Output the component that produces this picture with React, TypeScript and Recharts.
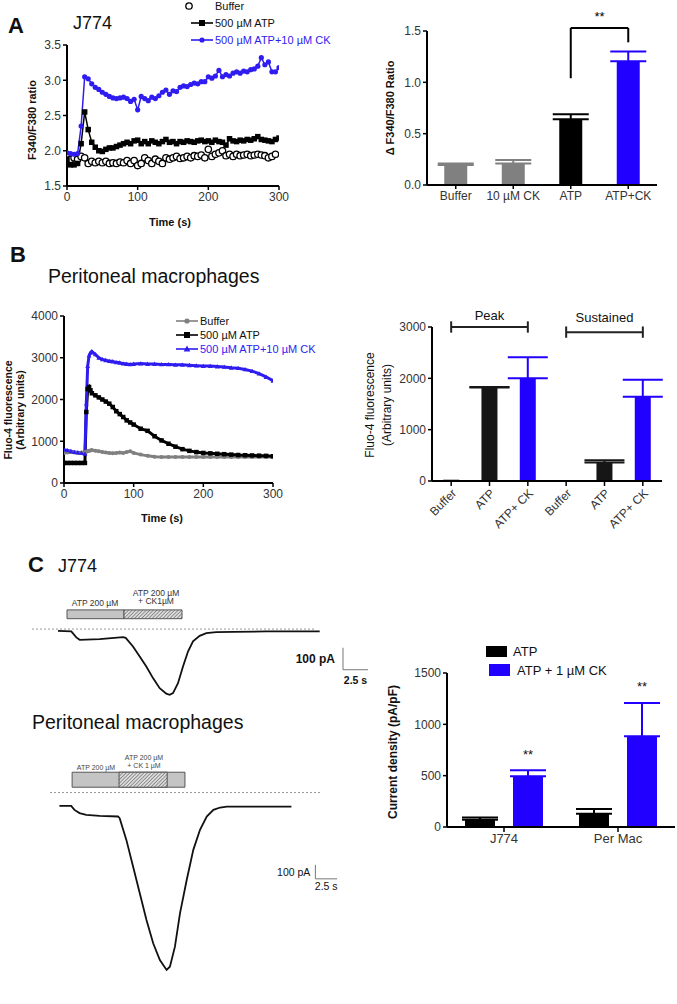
import React from 'react';
import {
  LineChart, Line, XAxis, YAxis, BarChart, Bar, ErrorBar,
  ReferenceLine, ReferenceArea, LabelList,
} from 'recharts';

// ---------------- Panel A: J774, F340/F380 ratio ----------------
const aTime = [0, 5, 10, 15, 20, 25, 30, 35, 40, 45, 50, 55, 60, 65, 70, 75, 80, 85, 90, 95,
  100, 105, 110, 115, 120, 125, 130, 135, 140, 145, 150, 155, 160, 165, 170, 175, 180, 185, 190, 195,
  200, 205, 210, 215, 220, 225, 230, 235, 240, 245, 250, 255, 260, 265, 270, 275, 280, 285, 290, 295, 300];
const aBuffer = [1.92, 1.88, 1.9, 1.88, 1.92, 1.9, 1.82, 1.85, 1.83, 1.85,
  1.83, 1.85, 1.82, 1.83, 1.82, 1.84, 1.83, 1.86, 1.82, 1.86,
  1.79, 1.82, 1.9, 1.86, 1.82, 1.88, 1.85, 1.82, 1.9, 1.88,
  1.9, 1.92, 1.89, 1.9, 1.92, 1.9, 1.93, 1.92, 1.94, 1.9,
  2.02, 1.92, 1.95, 1.97, 2.0, 1.93, 1.95, 1.92, 1.95, 1.93,
  1.94, 1.95, 1.93, 1.94, 1.95, 1.94, 1.93, 1.9, 1.92, 1.95, null];
const aAtp = [1.88, 1.8, 1.8, 1.82, 2.1, 2.55, 2.3, 2.12, 2.05, 2.0,
  1.99, 2.02, 2.04, 2.04, 2.06, 2.08, 2.1, 2.12, 2.1, 2.14,
  2.15, 2.1, 2.13, 2.1, 2.14, 2.12, 2.1, 2.13, 2.16, 2.12,
  2.13, 2.1, 2.13, 2.12, 2.14, 2.13, 2.12, 2.14, 2.15, 2.13,
  2.14, 2.12, 2.15, 2.13, 2.12, 2.08, 2.17, 2.14, 2.13, 2.15,
  2.14, 2.16, 2.15, 2.17, 2.2, 2.16, 2.15, 2.14, 2.13, 2.16, 2.18];
const aAtpCk = [1.97, 1.96, 1.95, 1.96, 2.35, 3.05, 3.02, 2.95, 2.9, 2.87,
  2.83, 2.8, 2.77, 2.75, 2.74, 2.75, 2.76, 2.74, 2.7, 2.73,
  2.58, 2.77, 2.74, 2.71, 2.76, 2.74, 2.78, 2.83, 2.86, 2.8,
  2.85, 2.84, 2.9, 2.92, 2.91, 2.94, 2.96, 2.95, 2.98, 2.98,
  3.05, 3.03, 3.06, 3.14, 3.05, 3.08, 3.06, 3.1, 3.12, 3.1,
  3.13, 3.12, 3.15, 3.16, 3.2, 3.32, 3.22, 3.26, 3.12, 3.12, 3.18];
const aSeriesNames = ['Buffer', '500 µM ATP', '500 µM ATP+10 µM CK'];
const aLineXTicks = [0, 100, 200, 300];
const aLineYTicks = [1.5, 2.0, 2.5, 3.0, 3.5];

const aBarCats = ['Buffer', '10 µM CK', 'ATP', 'ATP+CK'];
const aBarGray = [0.195, 0.21, 0, 0];
const aBarGrayErr = [0.015, 0.034, null, null];
const aBarBlack = [0, 0, 0.64, 0];
const aBarBlackErr = [null, null, 0.05, null];
const aBarBlue = [0, 0, 0, 1.205];
const aBarBlueErr = [null, null, null, 0.095];
const aBarYTicks = [0, 0.5, 1.0, 1.5];
const aSigPair = ['ATP', 'ATP+CK'];
const aSigLevels = [1.04, 1.53, 1.39]; // left foot, bracket, right foot
const aSigText = '**';

// ---------------- Panel B: peritoneal macrophages, Fluo-4 ----------------
const bTime = [0, 5, 10, 15, 20, 25, 30, 32, 34, 36, 38, 40, 45, 50, 55, 60, 65, 70, 75, 80, 85, 90, 95, 100,
  110, 120, 130, 140, 150, 160, 170, 180, 190, 200, 210, 220, 230, 240, 250, 260, 270, 280, 290, 300];
const bBuffer = [720, 730, 740, 730, 720, 730, 740, 750, 760, 770, 780, 790, 770, 760, 740, 730, 720, 710, 720, 730, 720, 740, 760, 720,
  680, 650, 630, 620, 620, 620, 620, 625, 620, 620, 625, 620, 620, 620, 620, 620, 625, 620, 620, 620];
const bAtp = [480, 480, 480, 480, 480, 480, 480, 1700, 2250, 2300, 2220, 2150, 2100, 2050, 2000, 1950, 1900, 1820, 1720, 1650, 1580, 1500, 1450, 1400,
  1300, 1250, 1120, 1020, 940, 870, 810, 770, 740, 720, 710, 700, 690, 680, 670, 665, 660, 655, 650, 640];
const bAtpCk = [800, 780, 760, 740, 730, 720, 700, 1900, 2800, 3050, 3120, 3150, 3080, 3000, 2960, 2940, 2920, 2910, 2890, 2880, 2860, 2850, 2840, 2850,
  2860, 2850, 2850, 2840, 2840, 2830, 2830, 2820, 2810, 2800, 2800, 2790, 2780, 2760, 2750, 2720, 2680, 2620, 2540, 2450];
const bSeriesNames = ['Buffer', '500 µM ATP', '500 µM ATP+10 µM CK'];
const bLineXTicks = [0, 100, 200, 300];
const bLineYTicks = [0, 1000, 2000, 3000, 4000];

const bBarKeys = ['peakBuffer', 'peakAtp', 'peakAtpCk', 'susBuffer', 'susAtp', 'susAtpCk'];
const bBarLabels = ['Buffer', 'ATP', 'ATP+ CK', 'Buffer', 'ATP', 'ATP+ CK'];
const bBarGray = [30, 0, 0, 0, 0, 0];
const bBarBlack = [0, 1820, 0, 0, 360, 0];
const bBarBlackErr = [null, 10, null, null, 45, null];
const bBarBlue = [0, 0, 2000, 0, 0, 1640];
const bBarBlueErr = [null, null, 410, null, null, 330];
const bBarYTicks = [0, 1000, 2000, 3000];
const bGroupNames = ['Peak', 'Sustained'];
const bGroupFrom = ['peakBuffer', 'susBuffer'];
const bGroupTo = ['peakAtpCk', 'susAtpCk'];
const bGroupLevels = [3000, 2900];
const bGroupCap = 110;

// ---------------- Panel C: patch-clamp currents ----------------
const j774Time = [0, 1.33, 1.83, 2.17, 4.17, 6.5, 6.77, 7.5, 8.17, 8.83,
  9.5, 10.17, 10.83, 11.17, 11.5, 12.0, 12.5, 13.0, 13.5, 14.17,
  14.83, 15.83, 17.5, 20.83, 26.17];
const j774Current = [0, -3, -30, -41, -38, -29, -32, -71, -117, -162,
  -215, -261, -286, -291, -283, -238, -162, -94, -48, -23,
  -11, -6, -5, -3, -3];
const j774Baseline = 8;
const j774BaselineSpan = [-2.6, 25.7];
const j774AtpWindow = [0.9, 6.6];
const j774CkWindow = [6.6, 12.4];
const j774BarLevels = [55, 95];
const j774ScaleOrigin = [28.5, -177];

const pmTime = [0, 1.35, 1.73, 2.31, 3.08, 4.62, 6.73, 6.92, 7.69, 8.46,
  9.23, 10.0, 10.77, 11.54, 12.31, 12.69, 13.27, 13.85, 14.62, 15.38,
  16.15, 16.92, 17.69, 18.46, 19.23, 21.92, 26.65];
const pmCurrent = [0, 0, -29, -52, -64, -71, -76, -88, -243, -433,
  -624, -814, -981, -1100, -1171, -1148, -1005, -767, -529, -314,
  -171, -76, -29, -12, -5, -5, -5];
const pmBaseline = 95;
const pmBaselineSpan = [-1.08, 30];
const pmAtpWindow = [1.46, 14.42];
const pmCkWindow = [6.85, 12.38];
const pmBarLevels = [133, 240];
const pmScaleOrigin = [29.4, -521];

const scaleCurrent = 100; // pA
const scaleTime = 2.5; // s
const appLabels = ['ATP 200 µM', 'ATP 200 µM', '+ CK1µM', '+ CK 1 µM'];

const cCats = ['J774', 'Per Mac'];
const cAtp = [70, 128];
const cAtpErr = [23, 47];
const cCk = [494, 883];
const cCkErr = [58, 325];
const cSigAt = [721, 1386];
const cSig = ['**', '**'];
const cSeriesNames = ['ATP', 'ATP + 1 µM CK'];
const cYTicks = [0, 500, 1000, 1500];

// ---------------- built tables ----------------
const aData = aTime.map((t, i) => ({ t, buffer: aBuffer[i], atp: aAtp[i], atpCk: aAtpCk[i] }));
const toErr = (e: number | null) => (e == null ? null : [0, e]);
const aBarData = aBarCats.map((cat, i) => ({
  cat,
  gray: aBarGray[i], grayErr: toErr(aBarGrayErr[i]),
  black: aBarBlack[i], blackErr: toErr(aBarBlackErr[i]),
  blue: aBarBlue[i], blueErr: toErr(aBarBlueErr[i]),
}));
const bData = bTime.map((t, i) => ({ t, buffer: bBuffer[i], atp: bAtp[i], atpCk: bAtpCk[i] }));
const bBarData = bBarKeys.map((key, i) => ({
  key,
  gray: bBarGray[i],
  black: bBarBlack[i], blackErr: toErr(bBarBlackErr[i]),
  blue: bBarBlue[i], blueErr: toErr(bBarBlueErr[i]),
}));
const j774Data = j774Time.map((t, i) => ({ t, i: j774Current[i] }));
const pmData = pmTime.map((t, i) => ({ t, i: pmCurrent[i] }));
const cData = cCats.map((cat, i) => ({
  cat, atp: cAtp[i], atpErr: toErr(cAtpErr[i]), ck: cCk[i], ckErr: toErr(cCkErr[i]),
}));

// ---------------- styles ----------------
const FONT = '"Liberation Sans", Arial, Helvetica, sans-serif';
const BLUE = '#2200ff';
const BLUE_LINE = '#2e1cf0';
const GRAY = '#808080';
const axisLine = { stroke: '#000', strokeWidth: 2 };
const tickLine = { stroke: '#000', strokeWidth: 1.5 };
const tickStyle = { fill: '#333', fontSize: 12, fontFamily: FONT };

const Txt = ({ x, y, size = 12, weight = 400, color = '#111', anchor = 'start', rotate = 0, children }: any) => {
  const tx = anchor === 'start' ? '0%' : anchor === 'middle' ? '-50%' : '-100%';
  const transform = rotate ? `translate(-50%, -50%) rotate(${rotate}deg)` : `translate(${tx}, -50%)`;
  return (
    <div style={{
      position: 'absolute', left: x, top: y, transform, fontSize: size, fontWeight: weight,
      color, fontFamily: FONT, whiteSpace: 'nowrap', lineHeight: 1,
    }}>{children}</div>
  );
};

const LegendMark = ({ x, y, w = 22, color, line, marker }: any) => (
  <svg width={w} height={12} style={{ position: 'absolute', left: x, top: y - 6, overflow: 'visible' }}>
    {line && <line x1={0} y1={6} x2={w} y2={6} stroke={color} strokeWidth={1.6} />}
    {marker === 'open' && <circle cx={w / 2} cy={6} r={3.2} fill="#fff" stroke={color} strokeWidth={1.3} />}
    {marker === 'square' && <rect x={w / 2 - 3} y={3} width={6} height={6} fill={color} />}
    {marker === 'dot' && <circle cx={w / 2} cy={6} r={2.6} fill={color} />}
    {marker === 'tri' && <polygon points={`${w / 2},2.5 ${w / 2 + 3.3},8.6 ${w / 2 - 3.3},8.6`} fill={color} />}
  </svg>
);

const openCircleDot = (p: any) => (p.cy == null || p.value == null
  ? <g key={`oc-${p.index}`} />
  : <circle key={`oc-${p.index}`} cx={p.cx} cy={p.cy} r={3.2} fill="#fff" stroke="#000" strokeWidth={1.3} />);
const makeSquareDot = (size: number, fill: string, tag: string) => (p: any) => (p.cy == null
  ? <g key={`${tag}-${p.index}`} />
  : <rect key={`${tag}-${p.index}`} x={p.cx - size / 2} y={p.cy - size / 2} width={size} height={size} fill={fill} />);
const makeCircleDot = (r: number, fill: string, tag: string) => (p: any) => (p.cy == null
  ? <g key={`${tag}-${p.index}`} />
  : <circle key={`${tag}-${p.index}`} cx={p.cx} cy={p.cy} r={r} fill={fill} />);
const makeTriDot = (s: number, fill: string, tag: string) => (p: any) => (p.cy == null
  ? <g key={`${tag}-${p.index}`} />
  : <polygon key={`${tag}-${p.index}`} points={`${p.cx},${p.cy - s} ${p.cx + s},${p.cy + s * 0.8} ${p.cx - s},${p.cy + s * 0.8}`} fill={fill} />);

const renderSig = (props: any) => {
  const vb = props.viewBox || props;
  let i = props.index;
  if (i == null) i = cCk.indexOf(props.value);
  if (i == null || i < 0 || !cSig[i]) return <g />;
  const pxPer = vb.height / cCk[i];
  const yLabel = vb.y + vb.height - cSigAt[i] * pxPer;
  return (
    <text key={`sig-${i}`} x={vb.x + vb.width / 2} y={yLabel + 6} textAnchor="middle"
      fontSize={13} fontFamily={FONT} fill="#111">{cSig[i]}</text>
  );
};

const HatchDefs = ({ id }: any) => (
  <defs>
    <pattern id={id} patternUnits="userSpaceOnUse" width="2.5" height="2.5" patternTransform="rotate(45)">
      <rect width="2.5" height="2.5" fill="#dcdcdc" />
      <line x1="0" y1="0" x2="0" y2="2.5" stroke="#555" strokeWidth="1.1" />
    </pattern>
  </defs>
);

export default function App() {
  return (
    <div style={{ position: 'absolute', left: 0, top: 0, width: 677, height: 1004, background: '#fff', overflow: 'hidden', fontFamily: FONT }}>
      {/* ================= Panel A ================= */}
      <Txt x={8} y={26} size={22} weight={700}>A</Txt>
      <Txt x={73} y={23} size={18}>J774</Txt>
      <LegendMark x={178} y={6} color="#000" line={false} marker="open" />
      <Txt x={215} y={6} size={11}>{aSeriesNames[0]}</Txt>
      <LegendMark x={191} y={23} color="#000" line marker="square" />
      <Txt x={215} y={23} size={11}>{aSeriesNames[1]}</Txt>
      <LegendMark x={191} y={40} color={BLUE_LINE} line marker="dot" />
      <Txt x={215} y={40} size={11} color={BLUE_LINE}>{aSeriesNames[2]}</Txt>
      <Txt x={32} y={120} size={11} weight={700} rotate={-90}>F340/F380 ratio</Txt>
      <Txt x={170} y={222} size={11} weight={700} anchor="middle">Time (s)</Txt>

      <div style={{ position: 'absolute', left: 0, top: 0 }}>
        <LineChart width={300} height={240} data={aData} margin={{ top: 45, right: 21, left: 27, bottom: 34 }}>
          <XAxis dataKey="t" type="number" domain={[0, 300]} ticks={aLineXTicks} axisLine={axisLine} tickLine={tickLine}
            tickSize={4} tick={tickStyle} height={20} allowDataOverflow />
          <YAxis type="number" domain={[1.5, 3.5]} ticks={aLineYTicks} tickFormatter={(v: number) => v.toFixed(1)}
            axisLine={axisLine} tickLine={tickLine} tickSize={4} tick={tickStyle} width={40} allowDataOverflow />
          <Line dataKey="buffer" stroke="none" dot={openCircleDot} isAnimationActive={false} />
          <Line dataKey="atp" stroke="#000" strokeWidth={1.5} dot={makeSquareDot(5.5, '#000', 'asq')} isAnimationActive={false} />
          <Line dataKey="atpCk" stroke={BLUE_LINE} strokeWidth={1.5} dot={makeCircleDot(2.6, BLUE_LINE, 'adot')} isAnimationActive={false} />
        </LineChart>
      </div>

      <Txt x={390} y={108} size={11} weight={700} rotate={-90}>Δ F340/F380 Ratio</Txt>
      <div style={{ position: 'absolute', left: 340, top: 0 }}>
        <BarChart width={337} height={240} data={aBarData} margin={{ top: 31, right: 20, left: 47, bottom: 35 }} barCategoryGap="30%">
          <XAxis dataKey="cat" interval={0} axisLine={axisLine} tickLine={tickLine} tickSize={4} tick={tickStyle} height={20} />
          <YAxis type="number" domain={[0, 1.5]} ticks={aBarYTicks} tickFormatter={(v: number) => v.toFixed(1)}
            axisLine={axisLine} tickLine={tickLine} tickSize={4} tick={tickStyle} width={40} allowDataOverflow />
          <Bar dataKey="gray" stackId="s" fill={GRAY} isAnimationActive={false}>
            <ErrorBar dataKey="grayErr" width={18} stroke={GRAY} strokeWidth={2} direction="y" />
          </Bar>
          <Bar dataKey="black" stackId="s" fill="#000" isAnimationActive={false}>
            <ErrorBar dataKey="blackErr" width={18} stroke="#000" strokeWidth={2} direction="y" />
          </Bar>
          <Bar dataKey="blue" stackId="s" fill={BLUE} isAnimationActive={false}>
            <ErrorBar dataKey="blueErr" width={18} stroke={BLUE} strokeWidth={2} direction="y" />
          </Bar>
          <ReferenceLine segment={[{ x: aSigPair[0], y: aSigLevels[0] }, { x: aSigPair[0], y: aSigLevels[1] }]}
            stroke="#000" strokeWidth={2} ifOverflow="visible" />
          <ReferenceLine segment={[{ x: aSigPair[0], y: aSigLevels[1] }, { x: aSigPair[1], y: aSigLevels[1] }]}
            stroke="#000" strokeWidth={2} ifOverflow="visible"
            label={{ value: aSigText, position: 'top', offset: 7, fill: '#000', fontSize: 13, fontFamily: FONT }} />
          <ReferenceLine segment={[{ x: aSigPair[1], y: aSigLevels[1] }, { x: aSigPair[1], y: aSigLevels[2] }]}
            stroke="#000" strokeWidth={2} ifOverflow="visible" />
        </BarChart>
      </div>

      {/* ================= Panel B ================= */}
      <Txt x={10} y={255} size={22} weight={700}>B</Txt>
      <Txt x={48} y={277} size={19.5}>Peritoneal macrophages</Txt>
      <LegendMark x={176} y={321} color={GRAY} line marker="dot" />
      <Txt x={200} y={321} size={11}>{bSeriesNames[0]}</Txt>
      <LegendMark x={176} y={335} color="#000" line marker="square" />
      <Txt x={200} y={335} size={11}>{bSeriesNames[1]}</Txt>
      <LegendMark x={176} y={349} color={BLUE_LINE} line marker="tri" />
      <Txt x={200} y={349} size={11} color={BLUE_LINE}>{bSeriesNames[2]}</Txt>
      <Txt x={8} y={410} size={10.5} weight={700} rotate={-90}>Fluo-4 fluorescence</Txt>
      <Txt x={20} y={410} size={10.5} weight={700} rotate={-90}>(Arbitrary units)</Txt>
      <Txt x={162} y={518} size={11} weight={700} anchor="middle">Time (s)</Txt>

      <div style={{ position: 'absolute', left: 0, top: 280 }}>
        <LineChart width={300} height={260} data={bData} margin={{ top: 36, right: 27, left: 24, bottom: 37 }}>
          <XAxis dataKey="t" type="number" domain={[0, 300]} ticks={bLineXTicks} axisLine={axisLine} tickLine={tickLine}
            tickSize={4} tick={tickStyle} height={20} allowDataOverflow />
          <YAxis type="number" domain={[0, 4000]} ticks={bLineYTicks} axisLine={axisLine} tickLine={tickLine}
            tickSize={4} tick={tickStyle} width={40} allowDataOverflow />
          <Line dataKey="buffer" stroke={GRAY} strokeWidth={3} dot={makeCircleDot(2, GRAY, 'bdot')} isAnimationActive={false} />
          <Line dataKey="atp" stroke="#000" strokeWidth={3} dot={makeSquareDot(4.5, '#000', 'bsq')} isAnimationActive={false} />
          <Line dataKey="atpCk" stroke={BLUE_LINE} strokeWidth={3} dot={makeTriDot(2.4, BLUE_LINE, 'btri')} isAnimationActive={false} />
        </LineChart>
      </div>

      <Txt x={370} y={405} size={12} rotate={-90}>Fluo-4 fluorescence</Txt>
      <Txt x={387} y={405} size={12} rotate={-90}>(Arbitrary units)</Txt>
      <div style={{ position: 'absolute', left: 340, top: 280 }}>
        <BarChart width={337} height={270} data={bBarData} margin={{ top: 47, right: 15, left: 52, bottom: 19 }} barCategoryGap="29%">
          <XAxis dataKey="key" interval={0} tickFormatter={(v: string, i: number) => bBarLabels[i]} angle={-45} textAnchor="end"
            axisLine={axisLine} tickLine={tickLine} tickSize={5} tick={{ ...tickStyle, textAnchor: 'end' }} height={50} />
          <YAxis type="number" domain={[0, 3000]} ticks={bBarYTicks} axisLine={axisLine} tickLine={tickLine}
            tickSize={4} tick={tickStyle} width={40} allowDataOverflow />
          <Bar dataKey="gray" stackId="s" fill={GRAY} isAnimationActive={false} />
          <Bar dataKey="black" stackId="s" fill="#161616" isAnimationActive={false}>
            <ErrorBar dataKey="blackErr" width={20} stroke="#161616" strokeWidth={2} direction="y" />
          </Bar>
          <Bar dataKey="blue" stackId="s" fill={BLUE} isAnimationActive={false}>
            <ErrorBar dataKey="blueErr" width={20} stroke={BLUE} strokeWidth={2} direction="y" />
          </Bar>
          {bGroupNames.map((name, g) => (
            <ReferenceLine key={`grp-${g}`} segment={[{ x: bGroupFrom[g], y: bGroupLevels[g] }, { x: bGroupTo[g], y: bGroupLevels[g] }]}
              stroke="#222" strokeWidth={2} ifOverflow="visible"
              label={{ value: name, position: 'top', offset: g === 0 ? 7 : 10, fill: '#111', fontSize: 13, fontFamily: FONT }} />
          ))}
          {bGroupNames.map((name, g) => (
            <ReferenceLine key={`capL-${g}`} segment={[{ x: bGroupFrom[g], y: bGroupLevels[g] - bGroupCap }, { x: bGroupFrom[g], y: bGroupLevels[g] + bGroupCap }]}
              stroke="#222" strokeWidth={2} ifOverflow="visible" />
          ))}
          {bGroupNames.map((name, g) => (
            <ReferenceLine key={`capR-${g}`} segment={[{ x: bGroupTo[g], y: bGroupLevels[g] - bGroupCap }, { x: bGroupTo[g], y: bGroupLevels[g] + bGroupCap }]}
              stroke="#222" strokeWidth={2} ifOverflow="visible" />
          ))}
        </BarChart>
      </div>

      {/* ================= Panel C ================= */}
      <Txt x={28} y={565} size={22} weight={700}>C</Txt>
      <Txt x={58} y={566} size={18}>J774</Txt>
      <Txt x={95} y={603} size={8.5} color="#333" anchor="middle">{appLabels[0]}</Txt>
      <Txt x={156} y={593} size={8.5} color="#333" anchor="middle">{appLabels[1]}</Txt>
      <Txt x={156} y={601} size={8.5} color="#333" anchor="middle">{appLabels[2]}</Txt>

      <div style={{ position: 'absolute', left: 18, top: 600 }}>
        <LineChart width={360} height={110} data={j774Data} margin={{ top: 0, right: 0, left: 0, bottom: 0 }}>
          <HatchDefs id="hatchJ" />
          <XAxis dataKey="t" type="number" domain={[-4, 32]} hide allowDataOverflow />
          <YAxis type="number" domain={[-360, 140]} hide allowDataOverflow />
          <ReferenceLine segment={[{ x: j774BaselineSpan[0], y: j774Baseline }, { x: j774BaselineSpan[1], y: j774Baseline }]}
            stroke="#999" strokeWidth={1} strokeDasharray="2 2" ifOverflow="visible" />
          <ReferenceArea x1={j774AtpWindow[0]} x2={j774AtpWindow[1]} y1={j774BarLevels[0]} y2={j774BarLevels[1]}
            fill="#c4c4c4" fillOpacity={1} stroke="#555" strokeWidth={1} ifOverflow="visible" />
          <ReferenceArea x1={j774CkWindow[0]} x2={j774CkWindow[1]} y1={j774BarLevels[0]} y2={j774BarLevels[1]}
            fill="url(#hatchJ)" fillOpacity={1} stroke="#555" strokeWidth={1} ifOverflow="visible" />
          <Line dataKey="i" stroke="#111" strokeWidth={1.8} dot={false} isAnimationActive={false} />
          <ReferenceLine segment={[{ x: j774ScaleOrigin[0], y: j774ScaleOrigin[1] }, { x: j774ScaleOrigin[0], y: j774ScaleOrigin[1] + scaleCurrent }]}
            stroke="#777" strokeWidth={1} ifOverflow="visible"
            label={{ value: `${scaleCurrent} pA`, position: 'left', offset: 8, fill: '#111', fontSize: 12, fontWeight: 700, fontFamily: FONT }} />
          <ReferenceLine segment={[{ x: j774ScaleOrigin[0], y: j774ScaleOrigin[1] }, { x: j774ScaleOrigin[0] + scaleTime, y: j774ScaleOrigin[1] }]}
            stroke="#777" strokeWidth={1} ifOverflow="visible"
            label={{ value: `${scaleTime} s`, position: 'bottom', offset: 7, fill: '#111', fontSize: 10.5, fontWeight: 700, fontFamily: FONT }} />
        </LineChart>
      </div>

      <Txt x={32} y={723} size={19.5}>Peritoneal macrophages</Txt>
      <Txt x={96} y={767} size={7} color="#444" anchor="middle">{appLabels[0]}</Txt>
      <Txt x={144} y={757} size={7} color="#444" anchor="middle">{appLabels[1]}</Txt>
      <Txt x={144} y={765} size={7} color="#444" anchor="middle">{appLabels[3]}</Txt>

      <div style={{ position: 'absolute', left: 42, top: 761 }}>
        <LineChart width={296} height={220} data={pmData} margin={{ top: 0, right: 0, left: 0, bottom: 0 }}>
          <HatchDefs id="hatchP" />
          <XAxis dataKey="t" type="number" domain={[-2, 32]} hide allowDataOverflow />
          <YAxis type="number" domain={[-1250, 320]} hide allowDataOverflow />
          <ReferenceLine segment={[{ x: pmBaselineSpan[0], y: pmBaseline }, { x: pmBaselineSpan[1], y: pmBaseline }]}
            stroke="#999" strokeWidth={1} strokeDasharray="2 2" ifOverflow="visible" />
          <ReferenceArea x1={pmAtpWindow[0]} x2={pmAtpWindow[1]} y1={pmBarLevels[0]} y2={pmBarLevels[1]}
            fill="#c4c4c4" fillOpacity={1} stroke="#555" strokeWidth={1} ifOverflow="visible" />
          <ReferenceArea x1={pmCkWindow[0]} x2={pmCkWindow[1]} y1={pmBarLevels[0]} y2={pmBarLevels[1]}
            fill="url(#hatchP)" fillOpacity={1} stroke="#555" strokeWidth={1} ifOverflow="visible" />
          <Line dataKey="i" stroke="#111" strokeWidth={1.8} dot={false} isAnimationActive={false} />
          <ReferenceLine segment={[{ x: pmScaleOrigin[0], y: pmScaleOrigin[1] }, { x: pmScaleOrigin[0], y: pmScaleOrigin[1] + scaleCurrent }]}
            stroke="#777" strokeWidth={1} ifOverflow="visible"
            label={{ value: `${scaleCurrent} pA`, position: 'left', offset: 5, fill: '#111', fontSize: 10.5, fontFamily: FONT }} />
          <ReferenceLine segment={[{ x: pmScaleOrigin[0], y: pmScaleOrigin[1] }, { x: pmScaleOrigin[0] + scaleTime, y: pmScaleOrigin[1] }]}
            stroke="#777" strokeWidth={1} ifOverflow="visible"
            label={{ value: `${scaleTime} s`, position: 'bottom', offset: 4, fill: '#111', fontSize: 10.5, fontFamily: FONT }} />
        </LineChart>
      </div>

      {/* C right: current density */}
      <div style={{ position: 'absolute', left: 486, top: 646, width: 21, height: 11, background: '#000' }} />
      <Txt x={513} y={651} size={13}>{cSeriesNames[0]}</Txt>
      <div style={{ position: 'absolute', left: 489, top: 664, width: 21, height: 12, background: BLUE }} />
      <Txt x={517} y={670} size={13}>{cSeriesNames[1]}</Txt>
      <Txt x={393} y={752} size={12} weight={700} rotate={-90}>Current density (pA/pF)</Txt>
      <div style={{ position: 'absolute', left: 340, top: 640 }}>
        <BarChart width={337} height={230} data={cData} margin={{ top: 33, right: 2, left: 62, bottom: 18 }}
          barSize={30} barGap={18} barCategoryGap={16}>
          <XAxis dataKey="cat" interval={0} axisLine={axisLine} tickLine={tickLine} tickSize={5}
            tick={{ ...tickStyle, fontSize: 13 }} height={25} />
          <YAxis type="number" domain={[0, 1500]} ticks={cYTicks} axisLine={axisLine} tickLine={tickLine}
            tickSize={4} tick={tickStyle} width={45} allowDataOverflow />
          <Bar dataKey="atp" fill="#000" isAnimationActive={false}>
            <ErrorBar dataKey="atpErr" width={18} stroke="#000" strokeWidth={2} direction="y" />
          </Bar>
          <Bar dataKey="ck" fill={BLUE} isAnimationActive={false}>
            <ErrorBar dataKey="ckErr" width={18} stroke={BLUE} strokeWidth={2} direction="y" />
            <LabelList dataKey="ck" content={renderSig} />
          </Bar>
        </BarChart>
      </div>
    </div>
  );
}
